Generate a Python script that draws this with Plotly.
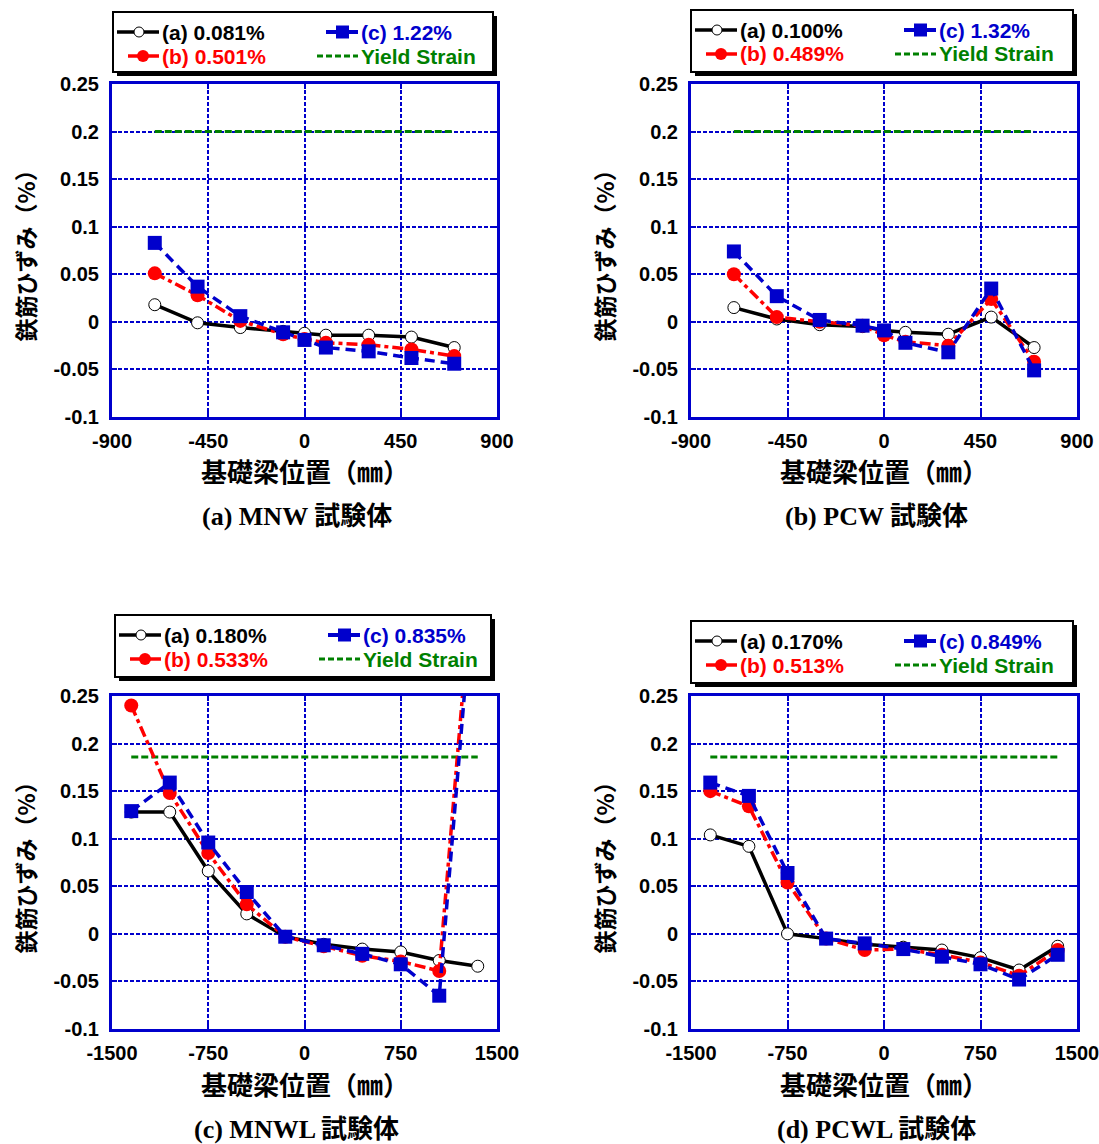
import plotly.graph_objects as go

W, H = 1099, 1144

# ---------------- data ----------------
pos_ab = [-700, -500, -300, -100, 0, 100, 300, 500, 700]
pos_cd = [-1350, -1050, -750, -450, -150, 150, 450, 750, 1050, 1350]

mnw_a = [0.018, -0.001, -0.006, -0.010, -0.012, -0.014, -0.014, -0.016, -0.027]
mnw_b = [0.051, 0.028, 0.001, -0.013, -0.018, -0.022, -0.024, -0.029, -0.036]
mnw_c = [0.083, 0.037, 0.006, -0.011, -0.019, -0.027, -0.031, -0.038, -0.044]

pcw_a = [0.015, 0.003, -0.003, -0.005, -0.009, -0.011, -0.013, 0.005, -0.027]
pcw_b = [0.050, 0.005, 0.000, -0.004, -0.014, -0.021, -0.025, 0.024, -0.042]
pcw_c = [0.074, 0.027, 0.002, -0.004, -0.009, -0.022, -0.032, 0.035, -0.051]

mnwl_a = [0.128, 0.128, 0.066, 0.021, -0.003, -0.011, -0.016, -0.019, -0.028, -0.034]
mnwl_b = [0.240, 0.148, 0.085, 0.031, -0.003, -0.013, -0.023, -0.029, -0.039, 0.440]
mnwl_c = [0.129, 0.159, 0.096, 0.044, -0.003, -0.012, -0.021, -0.032, -0.065, 0.420]

pcwl_a = [0.104, 0.092, 0.000, -0.005, -0.011, -0.014, -0.017, -0.025, -0.038, -0.013]
pcwl_b = [0.150, 0.134, 0.054, -0.005, -0.017, -0.016, -0.022, -0.030, -0.044, -0.017]
pcwl_c = [0.159, 0.145, 0.064, -0.005, -0.010, -0.016, -0.024, -0.032, -0.048, -0.022]

yield_x_ab = [-700, 700]
yield_y_ab = [0.2, 0.2]
yield_x_cd = [-1350, 1350]
yield_y_cd = [0.186, 0.186]

labels_mnw = ["(a) 0.081%", "(b) 0.501%", "(c) 1.22%"]
labels_pcw = ["(a) 0.100%", "(b) 0.489%", "(c) 1.32%"]
labels_mnwl = ["(a) 0.180%", "(b) 0.533%", "(c) 0.835%"]
labels_pcwl = ["(a) 0.170%", "(b) 0.513%", "(c) 0.849%"]
yield_label = "Yield Strain"

captions = ["(a) MNW 試験体", "(b) PCW 試験体", "(c) MNWL 試験体", "(d) PCWL 試験体"]
x_title = "基礎梁位置（㎜）"
y_title = "鉄筋ひずみ（%）"

y_tickvals = [-0.1, -0.05, 0, 0.05, 0.1, 0.15, 0.2, 0.25]
y_ticktext = ["-0.1", "-0.05", "0", "0.05", "0.1", "0.15", "0.2", "0.25"]
x_tickvals_ab = [-900, -450, 0, 450, 900]
x_ticktext_ab = ["-900", "-450", "0", "450", "900"]
x_tickvals_cd = [-1500, -750, 0, 750, 1500]
x_ticktext_cd = ["-1500", "-750", "0", "750", "1500"]

# ---------------- style ----------------
BLUE = "#0000CC"
RED = "#FF0000"
GREEN = "#008000"
BLACK = "#000000"
SANS = "Liberation Sans, Arial, Noto Sans CJK JP"
CJK = "Noto Sans CJK JP"
SERIF = "Liberation Serif, Times New Roman, Noto Sans CJK JP"


def px(x):
    return x / W


def py(y):
    return 1 - y / H


# plot areas in pixels: (left, top, right, bottom)
areas = [(112, 84, 497, 417), (691, 84, 1077, 417), (112, 696, 497, 1029), (691, 696, 1077, 1029)]
legend_boxes = [(113, 12, 380, 60), (691, 10, 382, 62), (115, 615, 376, 62), (691, 621, 382, 62)]

panels = [
    (pos_ab, mnw_a, mnw_b, mnw_c, yield_x_ab, yield_y_ab, labels_mnw, [-900, 900], x_tickvals_ab, x_ticktext_ab),
    (pos_ab, pcw_a, pcw_b, pcw_c, yield_x_ab, yield_y_ab, labels_pcw, [-900, 900], x_tickvals_ab, x_ticktext_ab),
    (pos_cd, mnwl_a, mnwl_b, mnwl_c, yield_x_cd, yield_y_cd, labels_mnwl, [-1500, 1500], x_tickvals_cd, x_ticktext_cd),
    (pos_cd, pcwl_a, pcwl_b, pcwl_c, yield_x_cd, yield_y_cd, labels_pcwl, [-1500, 1500], x_tickvals_cd, x_ticktext_cd),
]

fig = go.Figure()
layout = dict(
    width=W, height=H, margin=dict(l=0, r=0, t=0, b=0, pad=0, autoexpand=False),
    paper_bgcolor="white", plot_bgcolor="white", showlegend=False,
)
shapes = []
annotations = []

tickfont = dict(family=SANS, size=20, color=BLACK, weight="bold")

for i, (xs, ya, yb, yc, yx, yy, labels, xr, xtv, xtt) in enumerate(panels):
    n = i + 1
    xa = "x" if n == 1 else f"x{n}"
    ya_ref = "y" if n == 1 else f"y{n}"
    l, t, r, b = areas[i]
    # yield line
    fig.add_trace(go.Scatter(x=yx, y=yy, mode="lines", name=yield_label,
                             line=dict(color=GREEN, width=3, dash="7px,3px"),
                             xaxis=xa, yaxis=ya_ref, hoverinfo="skip"))
    fig.add_trace(go.Scatter(x=xs, y=ya, mode="lines+markers", name=labels[0],
                             line=dict(color=BLACK, width=3.5),
                             marker=dict(symbol="circle", size=12, color="white",
                                         line=dict(color=BLACK, width=1)),
                             xaxis=xa, yaxis=ya_ref))
    fig.add_trace(go.Scatter(x=xs, y=yb, mode="lines+markers", name=labels[1],
                             line=dict(color=RED, width=3.5, dash="11px,4px,4px,4px"),
                             marker=dict(symbol="circle", size=14, color=RED),
                             xaxis=xa, yaxis=ya_ref))
    fig.add_trace(go.Scatter(x=xs, y=yc, mode="lines+markers", name=labels[2],
                             line=dict(color=BLUE, width=3.5, dash="10px,6px"),
                             marker=dict(symbol="square", size=14, color=BLUE),
                             xaxis=xa, yaxis=ya_ref))

    axis_common = dict(
        showline=True, linecolor=BLUE, linewidth=3, mirror="ticks",
        ticks="inside", ticklen=5, tickwidth=2, tickcolor=BLUE,
        showgrid=True, gridcolor=BLUE, gridwidth=2, griddash="4px,2px",
        zeroline=False, tickfont=tickfont, tickmode="array", automargin=False,
        ticklabeloverflow="allow",
    )
    layout["xaxis" if n == 1 else f"xaxis{n}"] = dict(
        axis_common, domain=[px(l), px(r)], range=xr, tickvals=xtv, ticktext=xtt,
        anchor=ya_ref, ticklabelstandoff=4)
    layout["yaxis" if n == 1 else f"yaxis{n}"] = dict(
        axis_common, domain=[py(b), py(t)], range=[-0.1, 0.25],
        tickvals=y_tickvals, ticktext=y_ticktext, anchor=xa, ticklabelstandoff=6)

    cx = (l + r) / 2
    cy = (t + b) / 2
    # axis titles
    annotations.append(dict(text=x_title, x=px(cx), y=py(b + 54), xref="paper", yref="paper",
                            xanchor="center", yanchor="middle", showarrow=False,
                            font=dict(family=CJK, size=26, color=BLACK, weight="bold")))
    annotations.append(dict(text=y_title, x=px(l - 88), y=py(cy), xref="paper", yref="paper",
                            xanchor="center", yanchor="middle", showarrow=False, textangle=-90,
                            font=dict(family=CJK, size=23, color=BLACK, weight="bold")))
    annotations.append(dict(text=captions[i], x=px(cx - 8), y=py(b + 100), xref="paper", yref="paper",
                            xanchor="center", yanchor="middle", showarrow=False,
                            font=dict(family=SERIF, size=26, color=BLACK, weight="bold")))

    # legend box (drawn manually)
    bl, bt, bw, bh = legend_boxes[i]
    shapes.append(dict(type="rect", xref="paper", yref="paper",
                       x0=px(bl + 4), x1=px(bl + bw + 4), y0=py(bt + bh + 4), y1=py(bt + 4),
                       fillcolor=BLACK, line=dict(width=0), layer="above"))
    shapes.append(dict(type="rect", xref="paper", yref="paper",
                       x0=px(bl), x1=px(bl + bw), y0=py(bt + bh), y1=py(bt),
                       fillcolor="white", line=dict(color=BLACK, width=2), layer="above"))
    r1 = bt + 20
    r2 = bt + 44
    # (a) sample
    shapes.append(dict(type="line", xref="paper", yref="paper", x0=px(bl + 4), x1=px(bl + 46),
                       y0=py(r1), y1=py(r1), line=dict(color=BLACK, width=3.5), layer="above"))
    shapes.append(dict(type="circle", xref="paper", yref="paper", x0=px(bl + 21), x1=px(bl + 31),
                       y0=py(r1 + 5), y1=py(r1 - 5), fillcolor="white",
                       line=dict(color=BLACK, width=1), layer="above"))
    # (b) sample
    shapes.append(dict(type="line", xref="paper", yref="paper", x0=px(bl + 15), x1=px(bl + 46),
                       y0=py(r2), y1=py(r2), line=dict(color=RED, width=3.5), layer="above"))
    shapes.append(dict(type="circle", xref="paper", yref="paper", x0=px(bl + 24), x1=px(bl + 36),
                       y0=py(r2 + 6), y1=py(r2 - 6), fillcolor=RED,
                       line=dict(color=RED, width=0), layer="above"))
    # (c) sample
    shapes.append(dict(type="line", xref="paper", yref="paper", x0=px(bl + 213), x1=px(bl + 245),
                       y0=py(r1), y1=py(r1), line=dict(color=BLUE, width=4), layer="above"))
    shapes.append(dict(type="rect", xref="paper", yref="paper", x0=px(bl + 223), x1=px(bl + 236),
                       y0=py(r1 + 6.5), y1=py(r1 - 6.5), fillcolor=BLUE,
                       line=dict(color=BLUE, width=0), layer="above"))
    # yield sample
    shapes.append(dict(type="line", xref="paper", yref="paper", x0=px(bl + 204), x1=px(bl + 245),
                       y0=py(r2), y1=py(r2), line=dict(color=GREEN, width=3, dash="6px,3px"), layer="above"))
    lf = dict(family=SANS, size=21, weight="bold")
    for txt, xo, yo, col in [(labels[0], 47, r1, BLACK), (labels[1], 47, r2, RED),
                             (labels[2], 246, r1, BLUE), (yield_label, 246, r2, GREEN)]:
        annotations.append(dict(text=txt, x=px(bl + xo), y=py(yo), xref="paper", yref="paper",
                                xanchor="left", yanchor="middle", showarrow=False,
                                font=dict(lf, color=col)))

layout["shapes"] = shapes
layout["annotations"] = annotations
fig.update_layout(**layout)
fig.write_html(
    "out.html",
    config={"displayModeBar": False},
    post_script="document.body.style.margin='0';document.body.style.overflow='hidden';",
)
